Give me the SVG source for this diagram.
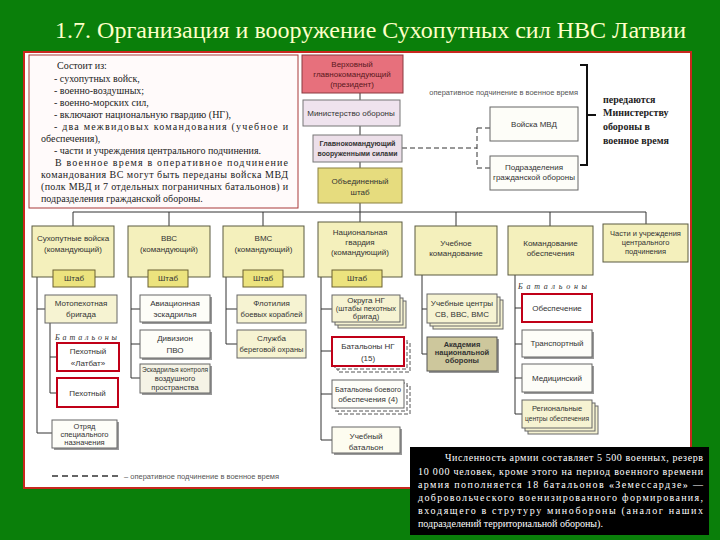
<svg xmlns="http://www.w3.org/2000/svg" width="720" height="540" viewBox="0 0 720 540">
<style>
.t{font-family:"Liberation Sans",Arial,sans-serif;font-size:8px;fill:#333;text-anchor:middle}
.s{font-size:7.5px}
.b{font-weight:bold}
.ser{font-family:"Liberation Serif","Times New Roman",serif;font-size:10px;fill:#222}
.ttl{font-family:"Liberation Serif","Times New Roman",serif;font-size:23px;fill:#ffffc8}
.w{fill:#fff}
.box{fill:#fdfdf8;stroke:#666;stroke-width:1}
.yel{fill:#f4f0bc;stroke:#5a5a40;stroke-width:1}
.lt{fill:#f6f3d2;stroke:#666;stroke-width:1}
.shtab{fill:#ece37e;stroke:#6a6030;stroke-width:1}
.red{fill:#fff;stroke:#c00018;stroke-width:2}
.sh{fill:#999}
.ln{fill:none;stroke:#333;stroke-width:1}
.dash{fill:none;stroke:#333;stroke-width:1;stroke-dasharray:5,3}
.bat{font-family:"Liberation Serif","Times New Roman",serif;font-style:italic;font-size:8px;fill:#333}
</style>
<rect x="0" y="0" width="720" height="540" fill="#0a7f0a"/>
<text class="ttl" x="55" y="38" textLength="631" lengthAdjust="spacingAndGlyphs">1.7. Организация и вооружение Сухопутных сил НВС Латвии</text>
<rect x="24" y="52" width="667" height="436" fill="#fff" stroke="#c8281e" stroke-width="2"/>

<g id="info">
<rect x="29" y="55" width="269" height="153" fill="#fffafa" stroke="#a83838" stroke-width="1"/>
<text class="ser" x="57" y="69">Состоит из:</text>
<text class="ser" x="54" y="82">- сухопутных войск,</text>
<text class="ser" x="54" y="94">- военно-воздушных;</text>
<text class="ser" x="54" y="106">- военно-морских сил,</text>
<text class="ser" x="54" y="118">- включают национальную гвардию (НГ),</text>
<text class="ser" x="54" y="130" textLength="234" lengthAdjust="spacing">- два межвидовых командования (учебное и</text>
<text class="ser" x="41" y="142">обеспечения),</text>
<text class="ser" x="54" y="154">- части и учреждения центрального подчинения.</text>
<text class="ser" x="55" y="166" textLength="233" lengthAdjust="spacing">В военное время в оперативное подчинение</text>
<text class="ser" x="41" y="178" textLength="247" lengthAdjust="spacing">командования ВС могут быть переданы войска МВД</text>
<text class="ser" x="41" y="190" textLength="247" lengthAdjust="spacing">(полк МВД и 7 отдельных пограничных батальонов) и</text>
<text class="ser" x="41" y="202">подразделения гражданской обороны.</text>
</g>

<g id="connectors">
<path class="ln" d="M360,93V100M360,126V135M360,162V168M360,203V212M73,212H646M73,212V226M169,212V226M263,212V226M360,212V222M456,212V226M550,212V226M646,212V224"/>
<path class="dash" d="M402,148H477M477,128V168M477,128H490M477,168H490"/>
<path d="M580,65H587V165H580M587,115H596" fill="none" stroke="#111" stroke-width="2"/>
<path class="ln" d="M37,277V433M37,309H45M37,433H52M50,323V393M50,357H57M50,393H57"/>
<path class="ln" d="M131,277V378M131,309H140M131,344H140M131,378H140"/>
<path class="ln" d="M226,277V344M226,309H237M226,344H237"/>
<path class="ln" d="M321,277V440M321,309H332M321,351H332M321,394H332M321,440H332"/>
<path class="ln" d="M422,275V354M422,309H427M422,354H427"/>
<path class="ln" d="M515,275V414M515,308H522M515,344H522M515,378H522M515,414H522"/>
<path d="M52,476H122" fill="none" stroke="#333" stroke-width="1.5" stroke-dasharray="6,4"/>
</g>

<g id="president">
<rect x="302" y="55" width="101" height="38" fill="#e7707c" stroke="#8a3a40"/>
<text class="t" x="352" y="67" style="fill:#5a1820">Верховный</text>
<text class="t" x="352" y="77" style="fill:#5a1820">главнокомандующий</text>
<text class="t" x="352" y="87" style="fill:#5a1820">(президент)</text>
</g>
<g id="mod">
<rect x="303" y="100" width="97" height="26" fill="#efe3ee" stroke="#777"/>
<text class="t" x="351" y="116">Министерство обороны</text>
</g>
<g id="cinc">
<rect x="313" y="135" width="89" height="27" fill="#ecdfe9" stroke="#777"/>
<text class="t b s" x="357.5" y="146" textLength="76" lengthAdjust="spacingAndGlyphs">Главнокомандующий</text>
<text class="t b s" x="357.5" y="156" textLength="80" lengthAdjust="spacingAndGlyphs">вооруженными силами</text>
</g>
<g id="jointstaff">
<rect x="318" y="168" width="84" height="35" fill="#e6dc7e" stroke="#8a8040"/>
<text class="t" x="360" y="184">Объединенный</text>
<text class="t" x="360" y="195">штаб</text>
</g>
<g id="mvd">
<rect class="box" x="490" y="107" width="88" height="34"/>
<text class="t" x="534" y="127">Войска МВД</text>
</g>
<g id="civdef">
<rect class="box" x="490" y="156" width="88" height="34"/>
<text class="t" x="534" y="170">Подразделения</text>
<text class="t" x="534" y="180">гражданской обороны</text>
</g>
<text class="t s" x="578" y="95" style="text-anchor:end;fill:#555">оперативное подчинение в военное время</text>
<g id="transfer">
<text class="ser b" x="603" y="103">передаются</text>
<text class="ser b" x="603" y="116">Министерству</text>
<text class="ser b" x="603" y="130">обороны в</text>
<text class="ser b" x="603" y="144">военное время</text>
</g>

<g id="land">
<rect class="yel" x="32" y="226" width="82" height="51"/>
<text class="t" x="73" y="241">Сухопутные войска</text>
<text class="t" x="73" y="252">(командующий)</text>
<rect class="shtab" x="53" y="270" width="42" height="17"/>
<text class="t" x="74" y="281">Штаб</text>
</g>
<g id="air">
<rect class="yel" x="128" y="226" width="82" height="51"/>
<text class="t" x="169" y="241">ВВС</text>
<text class="t" x="169" y="252">(командующий)</text>
<rect class="shtab" x="148" y="270" width="40" height="17"/>
<text class="t" x="168" y="281">Штаб</text>
</g>
<g id="navy">
<rect class="yel" x="223" y="226" width="81" height="51"/>
<text class="t" x="263.5" y="241">ВМС</text>
<text class="t" x="263.5" y="252">(командующий)</text>
<rect class="shtab" x="243" y="270" width="40" height="17"/>
<text class="t" x="263" y="281">Штаб</text>
</g>
<g id="guard">
<rect class="yel" x="318" y="222" width="84" height="55"/>
<text class="t" x="360" y="235">Национальная</text>
<text class="t" x="360" y="245">гвардия</text>
<text class="t" x="360" y="255">(командующий)</text>
<rect class="shtab" x="332" y="270" width="50" height="17"/>
<text class="t" x="357" y="281">Штаб</text>
</g>
<g id="training">
<rect class="yel" x="415" y="226" width="82" height="49"/>
<text class="t" x="456" y="246">Учебное</text>
<text class="t" x="456" y="256">командование</text>
</g>
<g id="support">
<rect class="yel" x="508" y="226" width="85" height="49"/>
<text class="t" x="550.5" y="246">Командование</text>
<text class="t" x="550.5" y="256">обеспечения</text>
</g>
<g id="central">
<rect class="yel" x="603" y="224" width="85" height="38"/>
<text class="t s" x="645.5" y="236">Части и учреждения</text>
<text class="t s" x="645.5" y="245">центрального</text>
<text class="t s" x="645.5" y="254">подчинения</text>
</g>

<g id="motbrig">
<rect class="lt" x="45" y="295" width="72" height="28"/>
<text class="t" x="81" y="306">Мотопехотная</text>
<text class="t" x="81" y="317">бригада</text>
</g>
<text class="bat" x="55" y="340" textLength="62" lengthAdjust="spacing">Батальоны</text>
<g id="latbat">
<rect class="red" x="57" y="343" width="62" height="28"/>
<text class="t" x="88" y="354">Пехотный</text>
<text class="t" x="88" y="366">«Латбат»</text>
</g>
<g id="inf">
<rect class="red" x="57" y="378" width="61" height="29"/>
<text class="t" x="87.5" y="396">Пехотный</text>
</g>
<g id="special">
<rect class="sh" x="54" y="422" width="65" height="28"/>
<rect class="box" x="52" y="420" width="65" height="28"/>
<text class="t s" x="84.5" y="429">Отряд</text>
<text class="t s" x="84.5" y="437">специального</text>
<text class="t s" x="84.5" y="445">назначения</text>
</g>

<g id="avsq">
<rect class="sh" x="142" y="297" width="70" height="27"/>
<rect class="box" x="140" y="295" width="70" height="27"/>
<text class="t" x="175" y="306">Авиационная</text>
<text class="t" x="175" y="317">эскадрилья</text>
</g>
<g id="pvo">
<rect class="sh" x="142" y="332" width="70" height="28"/>
<rect class="box" x="140" y="330" width="70" height="28"/>
<text class="t" x="175" y="341">Дивизион</text>
<text class="t" x="175" y="353">ПВО</text>
</g>
<g id="airsp">
<rect class="sh" x="142" y="366" width="70" height="29"/>
<rect x="140" y="364" width="70" height="29" fill="#f5f3e6" stroke="#666"/>
<text class="t s" x="175" y="372" textLength="66" lengthAdjust="spacingAndGlyphs">Эскадрилья контроля</text>
<text class="t s" x="175" y="381">воздушного</text>
<text class="t s" x="175" y="390">пространства</text>
</g>

<g id="flot">
<rect class="lt" x="237" y="295" width="69" height="28"/>
<text class="t" x="271.5" y="306">Флотилия</text>
<text class="t" x="271.5" y="317" textLength="62" lengthAdjust="spacingAndGlyphs">боевых кораблей</text>
</g>
<g id="coast">
<rect class="lt" x="237" y="330" width="69" height="28"/>
<text class="t" x="271.5" y="341">Служба</text>
<text class="t" x="271.5" y="352" textLength="64" lengthAdjust="spacingAndGlyphs">береговой охраны</text>
</g>

<g id="ngdist">
<rect class="lt" x="338" y="301" width="68" height="27"/>
<rect class="lt" x="335" y="298" width="68" height="27"/>
<rect class="lt" x="332" y="295" width="68" height="27"/>
<text class="t" x="366" y="303">Округа НГ</text>
<text class="t s" x="366" y="311">(штабы пехотных</text>
<text class="t s" x="366" y="319">бригад)</text>
</g>
<g id="ngbat">
<rect x="338" y="343" width="72" height="29" fill="#fff" stroke="#555" stroke-dasharray="4,2"/>
<rect x="335" y="340" width="72" height="29" fill="#fff" stroke="#555" stroke-dasharray="4,2"/>
<rect class="red" x="332" y="337" width="72" height="29"/>
<text class="t" x="368" y="349">Батальоны НГ</text>
<text class="t" x="368" y="361">(15)</text>
</g>
<g id="ngcs">
<rect x="338" y="386" width="72" height="28" fill="#fff" stroke="#555" stroke-dasharray="4,2"/>
<rect x="335" y="383" width="72" height="28" fill="#fff" stroke="#555" stroke-dasharray="4,2"/>
<rect class="box" x="332" y="380" width="72" height="28"/>
<text class="t" x="368" y="392" textLength="66" lengthAdjust="spacingAndGlyphs">Батальоны боевого</text>
<text class="t" x="368" y="402">обеспечения (4)</text>
</g>
<g id="ngtrain">
<rect class="sh" x="334" y="429" width="68" height="26"/>
<rect x="332" y="427" width="68" height="26" fill="#fdfcf0" stroke="#666"/>
<text class="t" x="366" y="439">Учебный</text>
<text class="t" x="366" y="450">батальон</text>
</g>

<g id="trcent">
<rect class="lt" x="433" y="300" width="70" height="29"/>
<rect class="lt" x="430" y="297" width="70" height="29"/>
<rect class="lt" x="427" y="294" width="70" height="29"/>
<text class="t" x="462" y="306">Учебные центры</text>
<text class="t" x="462" y="317">СВ, ВВС, ВМС</text>
</g>
<g id="academy">
<rect class="sh" x="429" y="339" width="70" height="34"/>
<rect x="427" y="337" width="70" height="34" fill="#cdc79c" stroke="#555"/>
<text class="t b s" x="462" y="347">Академия</text>
<text class="t b s" x="462" y="355">национальной</text>
<text class="t b s" x="462" y="363">обороны</text>
</g>

<text class="bat" x="518" y="289" textLength="69" lengthAdjust="spacing">Батальоны</text>
<g id="supbat">
<rect class="red" x="522" y="294" width="70" height="28"/>
<text class="t" x="557" y="311">Обеспечение</text>
</g>
<g id="transp">
<rect class="sh" x="524" y="332" width="70" height="27"/>
<rect class="box" x="522" y="330" width="70" height="27"/>
<text class="t" x="557" y="346">Транспортный</text>
</g>
<g id="med">
<rect class="sh" x="524" y="366" width="70" height="28"/>
<rect class="box" x="522" y="364" width="70" height="28"/>
<text class="t" x="557" y="381">Медицинский</text>
</g>
<g id="regcent">
<rect class="lt" x="528" y="406" width="70" height="28"/>
<rect class="lt" x="525" y="403" width="70" height="28"/>
<rect class="lt" x="522" y="400" width="70" height="28"/>
<text class="t s" x="557" y="411">Региональные</text>
<text class="t s" x="557" y="421" textLength="64" lengthAdjust="spacingAndGlyphs">центры обеспечения</text>
</g>

<text class="t s" x="124" y="479" style="text-anchor:start;fill:#555">– оперативное подчинение в военное время</text>

<g id="note">
<rect x="410" y="447" width="299" height="88" fill="#000"/>
<text class="ser w" x="445" y="461" textLength="258" lengthAdjust="spacing">Численность армии составляет 5 500 военных, резерв</text>
<text class="ser w" x="418" y="475" textLength="285" lengthAdjust="spacing">10 000 человек, кроме этого на период военного времени</text>
<text class="ser w" x="418" y="488" textLength="285" lengthAdjust="spacing">армия пополняется 18 батальонов «Земессардзе» —</text>
<text class="ser w" x="418" y="501" textLength="285" lengthAdjust="spacing">добровольческого военизированного формирования,</text>
<text class="ser w" x="418" y="514" textLength="285" lengthAdjust="spacing">входящего в струтуру минобороны (аналог наших</text>
<text class="ser w" x="418" y="527">подразделений территориальной обороны).</text>
</g>
</svg>
